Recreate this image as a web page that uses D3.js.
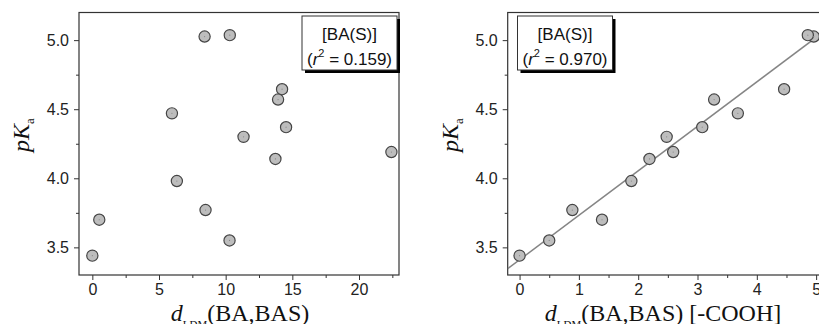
<!DOCTYPE html>
<html>
<head>
<meta charset="utf-8">
<script src="https://cdn.jsdelivr.net/npm/d3@7"></script>
<style>
	body { margin: 0; background: #fff; }
	svg { display: block; }
	.tick text { font-family: "Liberation Sans", Arial, sans-serif; font-size: 16px; fill: #222; }
</style>
</head>
<body>
<svg id="chart" width="819" height="324"></svg>
<script>
// pKa values, same order in both panels
const pKa = [3.44, 3.70, 4.47, 3.98, 5.026, 3.77, 5.036, 3.55, 4.30, 4.14, 4.57, 4.645, 4.37, 4.19]
// d_LDM(BA,BAS)
const dLeft = [0.0, 0.52, 5.97, 6.34, 8.42, 8.49, 10.31, 10.29, 11.34, 13.73, 13.93, 14.23, 14.53, 22.43]
// d_LDM(BA,BAS) [-COOH]
const dRight = [0.0, 1.39, 3.68, 1.885, 4.96, 0.89, 4.86, 0.50, 2.48, 2.19, 3.28, 4.46, 3.08, 2.59]

const xTicksLeft = [0, 5, 10, 15, 20]
const xTicksRight = [0, 1, 2, 3, 4, 5]
const yTicks = [3.5, 4.0, 4.5, 5.0]
const yMinor = [3.75, 4.25, 4.75]

// fitted line for right panel
const fitIntercept = 3.41
const fitSlope = 0.322

const boxLines = [
	{ title: "[BA(S)]", r2: "0.159" },
	{ title: "[BA(S)]", r2: "0.970" }
]

const svg = d3.select("#chart")

function drawPanel(opt) {
	let left = opt.left, right = opt.right, top = 12.5, bottom = 275

	let xScale = d3.scaleLinear().domain(opt.xDomain).range([left, right])
	let yScale = d3.scaleLinear().domain([3.3, 5.2]).range([bottom, top])

	let g = svg.append("g")

	// clip for marks
	let clipId = "clip" + opt.id
	svg.append("clipPath").attr("id", clipId)
		.append("rect")
		.attr("x", left).attr("y", top)
		.attr("width", right - left).attr("height", bottom - top)

	// minor ticks (halfway between majors)
	let xMinor = opt.xTicks.map(v => v + opt.xMinorStep / 2)
	g.append("g")
		.attr("transform", "translate(0," + bottom + ")")
		.call(d3.axisBottom(xScale).tickValues(xMinor).tickSize(3).tickFormat(""))
		.call(a => a.select(".domain").remove())
		.selectAll("line").attr("stroke", "#333")

	g.append("g")
		.attr("transform", "translate(" + left + ",0)")
		.call(d3.axisLeft(yScale).tickValues(yMinor).tickSize(3).tickFormat(""))
		.call(a => a.select(".domain").remove())
		.selectAll("line").attr("stroke", "#333")

	// major axes
	let xAxis = g.append("g")
		.attr("transform", "translate(0," + bottom + ")")
		.call(d3.axisBottom(xScale).tickValues(opt.xTicks).tickSize(5).tickPadding(4).tickFormat(d3.format("d")))
	xAxis.select(".domain").remove()
	xAxis.selectAll("line").attr("stroke", "#333")

	let yAxis = g.append("g")
		.attr("transform", "translate(" + left + ",0)")
		.call(d3.axisLeft(yScale).tickValues(yTicks).tickSize(5).tickPadding(5).tickFormat(d3.format(".1f")))
	yAxis.select(".domain").remove()
	yAxis.selectAll("line").attr("stroke", "#333")

	// frame
	g.append("rect")
		.attr("x", left).attr("y", top)
		.attr("width", right - left).attr("height", bottom - top)
		.attr("fill", "none").attr("stroke", "#333").attr("stroke-width", 1.2)

	let marks = g.append("g").attr("clip-path", "url(#" + clipId + ")")

	// regression line
	if (opt.fit) {
		let x0 = opt.xDomain[0], x1 = opt.xDomain[1]
		marks.append("line")
			.attr("x1", xScale(x0)).attr("y1", yScale(fitIntercept + fitSlope * x0))
			.attr("x2", xScale(x1)).attr("y2", yScale(fitIntercept + fitSlope * x1))
			.attr("stroke", "#858585").attr("stroke-width", 1.5)
	}

	// points
	marks.selectAll("circle.pt")
		.data(opt.xs)
		.join("circle")
		.attr("class", "pt")
		.attr("cx", d => xScale(d))
		.attr("cy", (d, i) => yScale(pKa[i]))
		.attr("r", 5.6)
		.attr("fill", "#bdbdbd")
		.attr("stroke", "#454545")
		.attr("stroke-width", 1.2)

	marks.selectAll("circle.dot")
		.data(opt.xs)
		.join("circle")
		.attr("class", "dot")
		.attr("cx", d => xScale(d))
		.attr("cy", (d, i) => yScale(pKa[i]))
		.attr("r", 0.6)
		.attr("fill", "#888")

	// legend box with shadow
	let bx = opt.boxX, by = 16, bw = 95, bh = 54
	g.append("rect")
		.attr("x", bx + 3).attr("y", by + 3).attr("width", bw).attr("height", bh)
		.attr("fill", "#000")
	g.append("rect")
		.attr("x", bx).attr("y", by).attr("width", bw).attr("height", bh)
		.attr("fill", "#fff").attr("stroke", "#333").attr("stroke-width", 1)

	let bt = g.append("text")
		.attr("font-family", "Liberation Sans, Arial, sans-serif")
		.attr("font-size", 17)
		.attr("fill", "#111")
		.attr("text-anchor", "middle")
	bt.append("tspan").attr("x", bx + bw / 2).attr("y", 39.5).text(opt.box.title)
	let l2 = bt.append("tspan").attr("x", bx + bw / 2).attr("y", 65)
	l2.append("tspan").text("(")
	l2.append("tspan").attr("font-style", "italic").text("r")
	l2.append("tspan").attr("font-size", 11).attr("dy", -8).text("2")
	l2.append("tspan").attr("dy", 8).text(" = " + opt.box.r2 + ")")

	// y title
	let yt = g.append("text")
		.attr("transform", "translate(" + (left - 50) + ",135) rotate(-90)")
		.attr("text-anchor", "middle")
		.attr("font-family", "Liberation Serif, Times New Roman, serif")
		.attr("font-size", 24)
		.attr("fill", "#111")
	yt.append("tspan").attr("font-style", "italic").text("pK")
	yt.append("tspan").attr("font-size", 13).attr("dy", 5).text("a")

	// x title (subscript partly below the picture edge, as in the source)
	let xt = g.append("text")
		.attr("x", opt.titleX).attr("y", 321)
		.attr("text-anchor", "middle")
		.attr("font-family", "Liberation Serif, Times New Roman, serif")
		.attr("font-size", 24)
		.attr("fill", "#111")
	xt.append("tspan").attr("font-style", "italic").text("d")
	xt.append("tspan").attr("font-size", 11).attr("dy", 7).text("LDM")
	xt.append("tspan").attr("dy", -7).text(opt.titleText)
}

drawPanel({
	id: 1, left: 79, right: 399, xDomain: [-1, 23], xTicks: xTicksLeft, xMinorStep: 5,
	xs: dLeft, fit: false, boxX: 302, box: boxLines[0], titleX: 240, titleText: "(BA,BAS)"
})

drawPanel({
	id: 2, left: 507.7, right: 828, xDomain: [-0.2, 5.2], xTicks: xTicksRight, xMinorStep: 1,
	xs: dRight, fit: true, boxX: 517.5, box: boxLines[1], titleX: 663, titleText: "(BA,BAS) [-COOH]"
})
</script>
</body>
</html>
